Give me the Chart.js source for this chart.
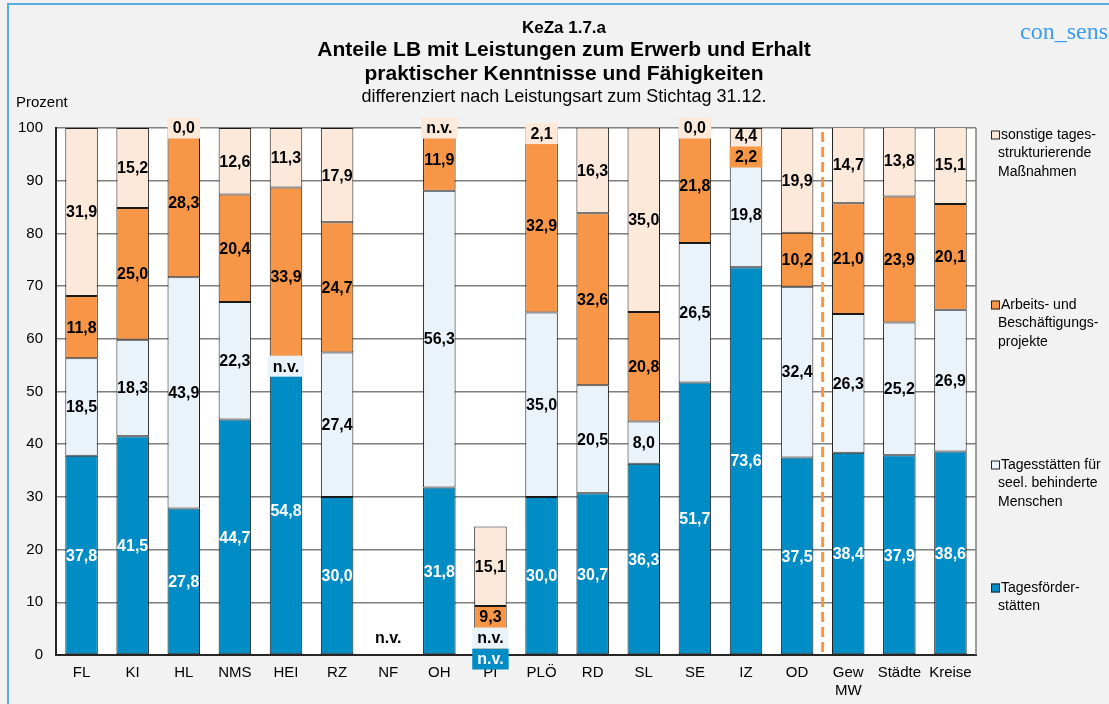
<!DOCTYPE html>
<html>
<head>
<meta charset="utf-8">
<script src="https://cdn.jsdelivr.net/npm/chart.js@4.4.1/dist/chart.umd.min.js"></script>
<style>
  html, body { margin: 0; padding: 0; background: #f2f2f2; }
  #wrap { position: relative; width: 1109px; height: 704px; overflow: hidden; }
  canvas { display: block; }
</style>
</head>
<body>
<div id="wrap"><canvas id="c" width="1109" height="704"></canvas></div>
<script>
// ---- data ----
const categories = ['FL','KI','HL','NMS','HEI','RZ','NF','OH','PI','PLÖ','RD','SL','SE','IZ','OD',['Gew','MW'],'Städte','Kreise'];
const tagesfoerderstaetten = [37.8,41.5,27.8,44.7,54.8,30.0,null,31.8,null,30.0,30.7,36.3,51.7,73.6,37.5,38.4,37.9,38.6];
const tagesstaetten        = [18.5,18.3,43.9,22.3,null,27.4,null,56.3,null,35.0,20.5,8.0,26.5,19.8,32.4,26.3,25.2,26.9];
const arbeitsprojekte      = [11.8,25.0,28.3,20.4,33.9,24.7,null,11.9,9.3,32.9,32.6,20.8,21.8,2.2,10.2,21.0,23.9,20.1];
const sonstige             = [31.9,15.2,0.0,12.6,11.3,17.9,null,null,15.1,2.1,16.3,35.0,0.0,4.4,19.9,14.7,13.8,15.1];
const seriesNames = [
  ['Tagesförder-','stätten'],
  ['Tagesstätten für','seel. behinderte','Menschen'],
  ['Arbeits- und','Beschäftigungs-','projekte'],
  ['sonstige tages-','strukturierende','Maßnahmen']
];
const yTicks = [0,10,20,30,40,50,60,70,80,90,100];
const titleLines = ['KeZa 1.7.a','Anteile LB mit Leistungen zum Erwerb und Erhalt','praktischer Kenntnisse und Fähigkeiten'];
const subtitle = 'differenziert nach Leistungsart zum Stichtag 31.12.';
const yAxisTitle = 'Prozent';
const brand = 'con_sens';
const missingText = 'n.v.';

const colors = ['#008cc4','#eaf2fa','#f79646','#fde9d9'];
const FONT = '"Liberation Sans", Arial, sans-serif';

function fmt(v){ return v.toFixed(1).replace('.', ','); }

const bgPlugin = {
  id: 'bg',
  beforeDraw(chart){
    const ctx = chart.ctx, a = chart.chartArea;
    ctx.save();
    ctx.fillStyle = '#f2f2f2';
    ctx.fillRect(0,0,chart.width,chart.height);
    ctx.fillStyle = '#ffffff';
    ctx.fillRect(a.left, a.top, a.right-a.left, a.bottom-a.top);
    ctx.strokeStyle = '#55aee0';
    ctx.lineWidth = 2;
    ctx.beginPath();
    ctx.moveTo(8, chart.height);
    ctx.lineTo(8, 4);
    ctx.lineTo(chart.width, 4);
    ctx.stroke();
    ctx.restore();
  },
  beforeDatasetsDraw(chart){
    const ctx = chart.ctx, a = chart.chartArea;
    ctx.save();
    ctx.strokeStyle = '#7f7f7f';
    ctx.lineWidth = 1.5;
    ctx.beginPath();
    ctx.moveTo(a.right, a.top);
    ctx.lineTo(a.right, a.bottom);
    ctx.stroke();
    ctx.restore();
  }
};

const dashPlugin = {
  id: 'dash',
  afterDatasetsDraw(chart){
    const ctx = chart.ctx, a = chart.chartArea, xs = chart.scales.x;
    const x = (xs.getPixelForValue(14) + xs.getPixelForValue(15)) / 2;
    ctx.save();
    ctx.strokeStyle = '#f79646';
    ctx.lineWidth = 3;
    ctx.setLineDash([10,5]);
    ctx.beginPath();
    ctx.moveTo(x, a.top + 4);
    ctx.lineTo(x, a.bottom);
    ctx.stroke();
    ctx.restore();
  }
};

const labelPlugin = {
  id: 'segLabels',
  afterDatasetsDraw(chart){
    const ctx = chart.ctx, xs = chart.scales.x, ys = chart.scales.y;
    const sets = chart.data.datasets;
    const boxH = 21;
    let bw = 32;
    const m = chart.getDatasetMeta(3).data[0];
    if (m && m.width) bw = m.width;
    ctx.save();
    ctx.font = 'bold 16px ' + FONT;
    ctx.textAlign = 'center';
    ctx.textBaseline = 'middle';
    for (let i = 0; i < categories.length; i++) {
      const allNull = sets.every(ds => ds.data[i] == null);
      const x = xs.getPixelForValue(i);
      let cum = 0, prevTop = null;
      for (let d = 0; d < sets.length; d++) {
        const v = sets[d].data[i];
        let yc, segH, text;
        if (v == null) {
          yc = ys.getPixelForValue(cum); segH = 0; text = missingText;
          if (d === 0 && cum === 0) yc = ys.getPixelForValue(0) + 4;
        } else {
          const yb = ys.getPixelForValue(cum), yt = ys.getPixelForValue(cum + v);
          yc = (yb + yt) / 2; segH = yb - yt; text = fmt(v); cum += v;
        }
        let top = yc - boxH/2, bottom = yc + boxH/2;
        if (prevTop !== null && bottom > prevTop) {
          bottom = prevTop; top = bottom - boxH; yc = top + boxH/2;
        }
        prevTop = top;
        if (allNull && d !== 1) continue;
        const special = (v == null) || segH < boxH;
        const tw = ctx.measureText(text).width;
        if (special) {
          const w = Math.max(tw + 10, bw);
          ctx.fillStyle = allNull ? '#ffffff' : sets[d].backgroundColor;
          ctx.fillRect(x - w/2, top, w, boxH);
        }
        ctx.fillStyle = d === 0 ? '#ffffff' : '#000000';
        ctx.fillText(text, x, yc + 1);
      }
    }
    ctx.restore();
  }
};

const textPlugin = {
  id: 'texts',
  afterDraw(chart){
    const ctx = chart.ctx;
    ctx.save();
    ctx.fillStyle = '#000';
    ctx.textAlign = 'center';
    ctx.textBaseline = 'middle';
    const cx = 564;
    ctx.font = 'bold 17px ' + FONT;
    ctx.fillText(titleLines[0], cx, 28);
    ctx.font = 'bold 21px ' + FONT;
    ctx.fillText(titleLines[1], cx, 50);
    ctx.fillText(titleLines[2], cx, 74);
    ctx.font = '18px ' + FONT;
    ctx.fillText(subtitle, cx, 97);
    ctx.textAlign = 'left';
    ctx.font = '15px ' + FONT;
    ctx.fillText(yAxisTitle, 16, 103);
    ctx.fillStyle = '#3d9bf2';
    ctx.font = '24px "Liberation Serif", "Times New Roman", serif';
    ctx.fillText(brand, 1020, 33);
    const legendTops = [588, 465, 305, 135];
    ctx.font = '14px ' + FONT;
    for (let d = 0; d < seriesNames.length; d++) {
      const y0 = legendTops[d];
      ctx.fillStyle = colors[d];
      ctx.fillRect(991, y0 - 4.5, 9, 9);
      ctx.strokeStyle = '#262626';
      ctx.lineWidth = 1;
      ctx.strokeRect(991.5, y0 - 4, 8, 8);
      ctx.fillStyle = '#000';
      seriesNames[d].forEach((line, k) => {
        ctx.fillText(line, k === 0 ? 1001 : 998, y0 + k * 18.5);
      });
    }
    ctx.restore();
  }
};

const datasets = [tagesfoerderstaetten, tagesstaetten, arbeitsprojekte, sonstige].map((arr, d) => ({
  label: seriesNames[d].join(' '),
  data: arr,
  backgroundColor: colors[d],
  borderColor: '#1a1a1a',
  borderWidth: 1,
  borderSkipped: false,
  categoryPercentage: 0.636,
  barPercentage: 1.0
}));

new Chart(document.getElementById('c'), {
  type: 'bar',
  data: { labels: categories, datasets },
  options: {
    responsive: false,
    devicePixelRatio: 1,
    animation: false,
    layout: { padding: { left: 12, right: 133, top: 128, bottom: 9 } },
    plugins: { legend: { display: false }, tooltip: { enabled: false }, title: { display: false } },
    scales: {
      x: {
        stacked: true,
        grid: { display: false, drawTicks: false },
        border: { display: true, color: '#262626', width: 2 },
        ticks: { color: '#000', font: { family: FONT, size: 15 }, padding: 9, maxRotation: 0, autoSkip: false },
        afterFit(s){ s.height = 40; }
      },
      y: {
        stacked: true,
        min: 0, max: 100,
        afterBuildTicks(s){ s.ticks = yTicks.map(v => ({ value: v })); },
        grid: { color: '#7f7f7f', lineWidth: 1.5, drawTicks: false },
        border: { display: true, color: '#262626', width: 2 },
        ticks: { color: '#000', font: { family: FONT, size: 15 }, padding: 13 },
        afterFit(s){ s.width = 44; }
      }
    }
  },
  plugins: [bgPlugin, dashPlugin, labelPlugin, textPlugin]
});
</script>
</body>
</html>
